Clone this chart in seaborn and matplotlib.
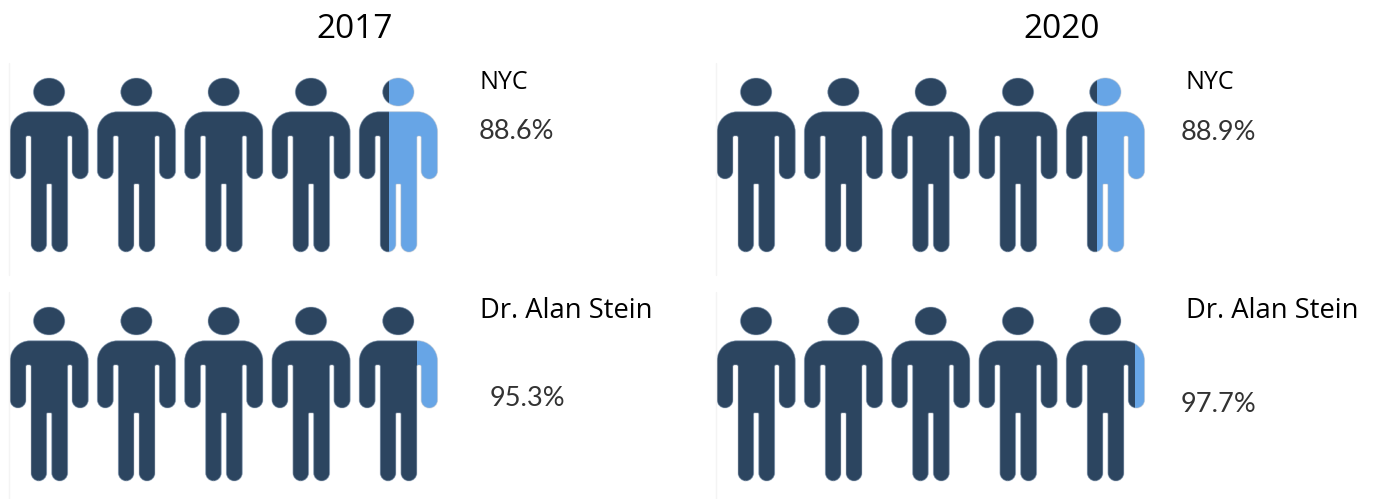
import numpy as np
import pandas as pd
import matplotlib
matplotlib.use("Agg")
import matplotlib.pyplot as plt
from matplotlib.path import Path
from matplotlib.patches import PathPatch
from matplotlib.transforms import Affine2D
from matplotlib.lines import Line2D
import seaborn as sns

sns.set_theme(style="white")
plt.rcParams['font.family'] = ['Open Sans', 'DejaVu Sans']

years = ["2017", "2020"]
groups = ["NYC", "Dr. Alan Stein"]
share_2017 = [88.6, 95.3]
share_2020 = [88.9, 97.7]
n_icons = 5

DARK = "#2c4560"
LIGHT = "#67a5e6"
W, H = 1373, 499

# icon outline, px relative to the icon's top left (x, y, corner radius)
body = [(0, 33.7, 20), (78.3, 33.7, 20), (78.3, 101, 8), (62, 101, 8),
        (62, 58, 1.5), (57.7, 58, 1.5), (57.7, 174, 8), (41.7, 174, 8),
        (41.7, 106, 1), (36.7, 106, 1), (36.7, 174, 8), (21, 174, 8),
        (21, 58, 1.5), (16, 58, 1.5), (16, 101, 8), (0, 101, 8)]
ICON_W, ICON_H, PITCH = 78.3, 174.0, 87.3
ROW_W = PITCH * (n_icons - 1) + ICON_W


def rounded(points):
    verts, codes = [], []
    n = len(points)
    k = 0.55
    for i, (x, y, r) in enumerate(points):
        p = np.array([x, y])
        a = np.array(points[i - 1][:2])
        b = np.array(points[(i + 1) % n][:2])
        p0 = p + (a - p) / np.linalg.norm(a - p) * r
        p1 = p + (b - p) / np.linalg.norm(b - p) * r
        verts += [p0, p0 + (p - p0) * k, p1 + (p - p1) * k, p1]
        codes += [Path.MOVETO if i == 0 else Path.LINETO, Path.CURVE4, Path.CURVE4, Path.CURVE4]
    verts.append(verts[0])
    codes.append(Path.CLOSEPOLY)
    return Path(verts, codes)


def person(dx):
    head = Path.unit_circle().transformed(Affine2D().scale(15.7, 14).translate(39.1, 14))
    return Path.make_compound_path(head, rounded(body)).transformed(Affine2D().translate(dx, 0))


people = Path.make_compound_path(*[person(PITCH * i) for i in range(n_icons)])

fig = plt.figure(figsize=(W / 100, H / 100), dpi=100)


def icon_row(left, top, share):
    ax = fig.add_axes([left / W, 1 - (top + ICON_H) / H, ROW_W / W, ICON_H / H])
    df = pd.DataFrame({"row": [""], "whole": [100.0], "share": [share]})
    sns.barplot(data=df, x="whole", y="row", orient="h", color=LIGHT, saturation=1, width=1,
                linewidth=0, edgecolor="none", ax=ax)
    sns.barplot(data=df, x="share", y="row", orient="h", color=DARK, saturation=1, width=1,
                linewidth=0, edgecolor="none", ax=ax)
    ax.set_xlim(0, 100)
    ax.set_ylim(0.5, -0.5)
    ax.axis("off")
    # px to axes fraction, y pointing down
    tr = Affine2D().scale(1 / ROW_W, -1 / ICON_H).translate(0, 1) + ax.transAxes
    for bar in ax.patches:
        bar.set_clip_path(people, tr)
    ax.add_patch(PathPatch(people, transform=tr, fc="none", ec="#b9c0c9", lw=0.8,
                           alpha=0.45, clip_on=False))


def label(x, y, s, size, color="#111111", **kw):
    fig.text(x / W, 1 - y / H, s, fontsize=size, color=color, va="center_baseline", **kw)


# (left of icons, title centre, label x, percent x per row, percent y per row)
columns = [(10, 355, 480, [479, 490], [129, 396], share_2017),
           (717, 1062, 1186, [1181, 1181], [130, 402], share_2020)]
tops = [78, 307]
name_y = [80, 307]

for yr, (left, tc, lx, px, py, shares) in zip(years, columns):
    label(tc, 26, yr, 24, color="#000000", ha="center")
    for r, grp in enumerate(groups):
        icon_row(left, tops[r], shares[r])
        label(lx, name_y[r], grp, 18 if r == 0 else 19.7, color="#000000", ha="left")
        label(px[r], py[r], f"{shares[r]}%", 19.5, color="#333333", ha="left",
              family=["Lato", "DejaVu Sans"])
        # faint edge of the pasted image
        fig.add_artist(Line2D([(left - 1) / W, (left - 1) / W],
                              [1 - (tops[r] - 15) / H, 1 - (tops[r] + 197) / H],
                              color="#f4f4f4", lw=1))

fig.savefig("out.png", dpi=100)
